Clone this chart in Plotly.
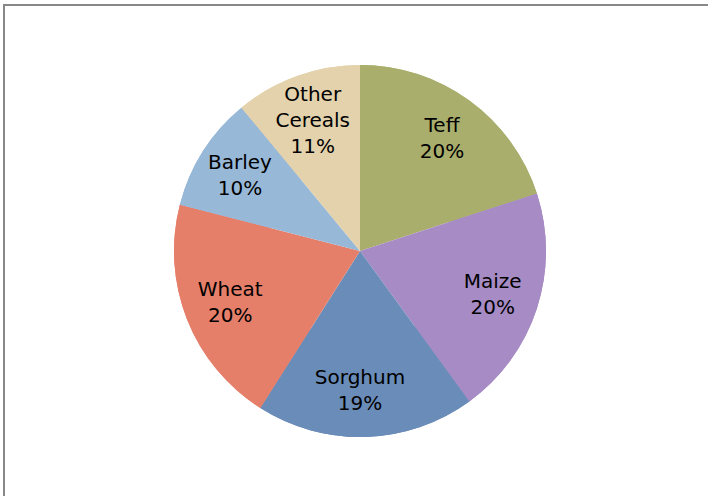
import plotly.graph_objects as go

labels = ["Teff", "Maize", "Sorghum", "Wheat", "Barley", "Other<br>Cereals"]
values = [20, 20, 19, 20, 10, 11]
colors = ["#A9AE6C", "#A68BC4", "#6A8CB8", "#E67F6A", "#98B8D8", "#E3D2AC"]

W, H = 708, 496
cx, cy, r = 360, 251, 186
dom = dict(x=[(cx - r) / W, (cx + r) / W], y=[1 - (cy + r) / H, 1 - (cy - r) / H])

common = dict(
    labels=labels,
    values=values,
    sort=False,
    direction="clockwise",
    rotation=0,
    marker=dict(colors=colors, line=dict(width=0)),
    showlegend=False,
    domain=dom,
)

# full pie body (no text)
fig = go.Figure(go.Pie(textinfo="none", hoverinfo="skip", **common))
# ring on top carrying the labels, so they sit toward the rim
fig.add_trace(go.Pie(
    hole=0.5,
    texttemplate="%{label}<br>%{percent:.0%}",
    textposition="inside",
    insidetextorientation="horizontal",
    textfont=dict(family="DejaVu Sans", size=20, color="#000000"),
    hoverinfo="label+percent",
    **common,
))

fig.update_layout(
    width=W, height=H,
    margin=dict(l=0, r=0, t=0, b=0),
    paper_bgcolor="white",
    plot_bgcolor="white",
    uniformtext=dict(minsize=20, mode="show"),
    shapes=[
        dict(type="line", xref="paper", yref="paper", x0=3 / W, x1=1, y0=1 - 5 / H, y1=1 - 5 / H,
             line=dict(color="#888888", width=2)),
        dict(type="line", xref="paper", yref="paper", x0=4 / W, x1=4 / W, y0=0, y1=1 - 5 / H,
             line=dict(color="#888888", width=2)),
    ],
)

fig.write_html("out.html")
